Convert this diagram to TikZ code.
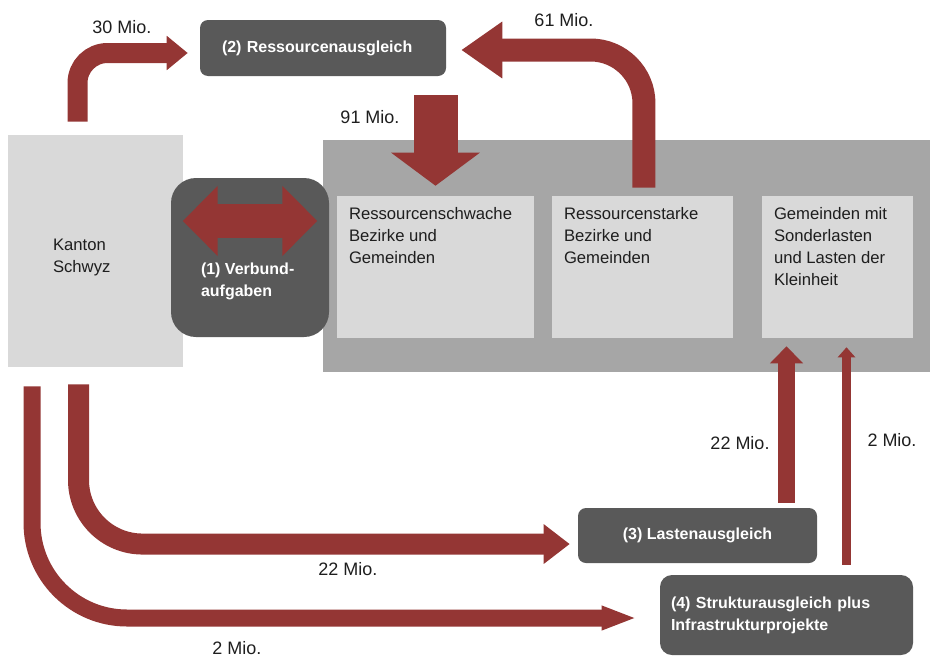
\documentclass[tikz,border=0pt]{standalone}
\usepackage{fontspec}
\setmainfont{Liberation Sans}
\usepackage{xcolor}
\usepackage{tikz}
\usetikzlibrary{arrows.meta, positioning}
\definecolor{flowred}{RGB}{148,54,52}
\definecolor{boxdark}{RGB}{89,89,89}
\definecolor{boxlight}{RGB}{217,217,217}
\definecolor{areagray}{RGB}{166,166,166}
\definecolor{amounttext}{RGB}{30,30,30}
\tikzset{
    area/.style={rectangle, fill=areagray, inner sep=0pt},
    canton/.style={rectangle, fill=boxlight, inner sep=0pt},
    group/.style={rectangle, fill=boxlight, inner sep=0pt, minimum height=106.5pt},
    grouptext/.style={anchor=north west, inner sep=0pt, align=left, text=amounttext, xshift=9pt, yshift=-8.25pt},
    pool/.style={rectangle, rounded corners=6pt, fill=boxdark, text=white, font=\fontsize{12}{16.5}\selectfont\bfseries, inner sep=0pt},
    amount/.style={inner sep=0pt, text=amounttext, font=\fontsize{13.5}{16.5}\selectfont},
    flow/.style n args={3}{draw=flowred, line width=#1, -{Triangle[width=#2,length=#3]}}
}

\begin{document}
\begin{tikzpicture}[
    x=0.75pt, y=-0.75pt,
    every node/.style={font=\fontsize{12.5}{16.5}\selectfont},
    swap/.style={draw=flowred, line width=25.5pt, {Triangle[width=51pt,length=26.25pt]}-{Triangle[width=51pt,length=26.25pt]}}
]
    \useasboundingbox (0,0) rectangle (930,657);

    % Municipalities
    \node[area, minimum width=455.25pt, minimum height=174pt] (gemeinden) at (626.5,256) {};
    \node[group, minimum width=147.75pt, label={[grouptext]north west:Ressourcenschwache\\Bezirke und\\Gemeinden}] (schwach) at (435.5,267) {};
    \node[group, minimum width=135.75pt, label={[grouptext]north west:Ressourcenstarke\\Bezirke und\\Gemeinden}] (stark) at (642.5,267) {};
    \node[group, minimum width=113.25pt, label={[grouptext]north west:Gemeinden mit\\Sonderlasten\\und Lasten der\\Kleinheit}] (sonder) at (837.5,267) {};

    % Canton
    \node[canton, minimum width=131.25pt, minimum height=174pt,
        label={[anchor=west, inner sep=0pt, align=left, text=amounttext, xshift=33.75pt, yshift=-4.9pt]west:Kanton\\Schwyz}] (kanton) at (95.5,251) {};

    % Equalisation pools
    \node[pool, minimum width=184.5pt, minimum height=42pt, text width=151.5pt, align=left] (ausgleich) at (323,48) {(2) Ressourcenausgleich};
    \node[pool, rounded corners=18.75pt, minimum width=118.5pt, minimum height=119.25pt,
        label={[anchor=north west, inner sep=0pt, align=left, text=white, font=\fontsize{12}{16.5}\selectfont\bfseries, xshift=22.5pt, yshift=-3.75pt]west:(1) Verbund-\\aufgaben}] (verbund) at (250,257.5) {};
    \node[pool, minimum width=179.25pt, minimum height=41.25pt] (lasten) at (697.5,535.5) {(3) Lastenausgleich};
    \node[pool, rounded corners=9pt, minimum width=189.75pt, minimum height=60pt, text width=173.25pt, align=left] (struktur) at (786.5,615) {(4) Strukturausgleich plus\\Infrastrukturprojekte};

    % Flows
    \draw[swap] ([xshift=9pt, yshift=27.4pt]verbund.west) -- ([xshift=-9pt, yshift=27.4pt]verbund.east);
    \draw[flow={15pt}{24.75pt}{15.75pt}, rounded corners=22.5pt, shorten <=9.75pt, shorten >=9pt]
        ([xshift=-13.5pt]kanton.north) |- ([yshift=-3.75pt]ausgleich.west);
    \draw[flow={33pt}{65.25pt}{24.75pt}, shorten <=14.25pt, shorten >=7.5pt]
        (ausgleich.south -| schwach.north) -- (schwach.north);
    \draw[flow={17.25pt}{40.5pt}{30.75pt}, rounded corners=40pt, shorten <=6pt, shorten >=11.25pt]
        ([xshift=1.1pt]stark.north) |- ([yshift=-1.5pt]ausgleich.east);
    \draw[flow={15.75pt}{28.5pt}{19.5pt}, rounded corners=48pt, shorten <=12.75pt, shorten >=6pt]
        ([xshift=-12.75pt]kanton.south) |- ([yshift=-6.4pt]lasten.west);
    \draw[flow={12.75pt}{16.5pt}{26.25pt}, rounded corners=71.25pt, shorten <=14.25pt, shorten >=17.25pt]
        ([xshift=-47.6pt]kanton.south) |- ([yshift=-2.25pt]struktur.west);
    \draw[flow={12.75pt}{24pt}{12.75pt}, shorten <=3.75pt, shorten >=6pt]
        (lasten.north -| struktur.north) -- (struktur.north |- sonder.south);
    \draw[flow={6.75pt}{12.75pt}{7.5pt}, shorten <=7.5pt, shorten >=6.75pt]
        ([xshift=45pt]struktur.north) -- ([xshift=45pt]struktur.north |- sonder.south);

    % Amounts
    \node[amount] (a30) at (122,27) {30 Mio.};
    \node[amount] (a91) at (370,117) {91 Mio.};
    \node[amount] (a61) at (564,20) {61 Mio.};
    \node[amount] (a22low) at (348,569) {22 Mio.};
    \node[amount] (a2low) at (237,648) {2 Mio.};
    \node[amount] (a22up) at (740,443) {22 Mio.};
    \node[amount] (a2up) at (892,440) {2 Mio.};
\end{tikzpicture}
\end{document}
